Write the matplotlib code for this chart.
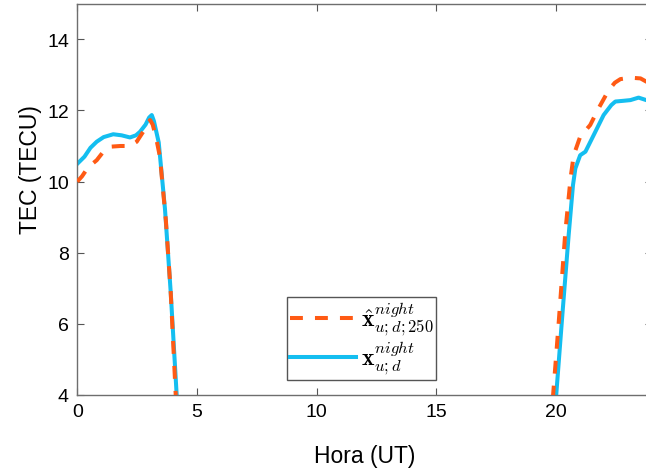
import numpy as np
import matplotlib
matplotlib.use("Agg")
import matplotlib.pyplot as plt

plt.rcParams['mathtext.fontset'] = 'cm'
plt.rcParams['font.family'] = ['Liberation Sans', 'DejaVu Sans']

# Reconstructed series (hour UT, TEC in TECU); NaN separates day gap
hours_est = [0, 0.2, 0.45, 0.81, 1.1, 1.37, 1.8, 2.2, 2.48, 2.75, 2.95, 3.04, 3.15, 3.3,
             3.45, 3.7, 3.9, 4.11, 4.3, np.nan,
             19.72, 19.87, 20.1, 20.38, 20.6, 20.73, 21.0, 21.42, 21.77, 22.19, 22.45,
             22.68, 23.1, 23.52, 23.76, 24.0]
tec_est = [10.0, 10.15, 10.4, 10.6, 10.85, 10.98, 11.0, 11.0, 11.12, 11.4, 11.65, 11.73,
           11.6, 11.2, 10.7, 8.9, 6.9, 4.0, 2.2, np.nan,
           2.5, 4.0, 6.0, 8.58, 10.1, 10.74, 11.26, 11.59, 12.06, 12.57, 12.78,
           12.88, 12.92, 12.90, 12.81, 12.75]

hours_obs = [0, 0.3, 0.55, 0.81, 1.1, 1.5, 1.85, 2.2, 2.45, 2.62, 2.85, 3.0, 3.11, 3.2,
             3.3, 3.4, 3.66, 3.9, 4.15, 4.3, np.nan,
             19.85, 20.0, 20.25, 20.52, 20.7, 20.8, 21.0, 21.22, 21.56, 21.98, 22.3,
             22.47, 22.8, 23.1, 23.44, 23.76, 24.0]
tec_obs = [10.5, 10.7, 10.95, 11.12, 11.25, 11.33, 11.3, 11.24, 11.3, 11.4, 11.6, 11.8,
           11.87, 11.7, 11.4, 11.1, 9.24, 6.9, 4.0, 2.6, np.nan,
           2.5, 4.0, 6.2, 8.5, 9.9, 10.37, 10.74, 10.84, 11.30, 11.87, 12.15,
           12.25, 12.27, 12.29, 12.36, 12.29, 12.25]

x_ticks = [0, 5, 10, 15, 20]
y_ticks = [4, 6, 8, 10, 12, 14]
label_est = r'$\hat{\mathbf{x}}^{night}_{u;d;250}$'
label_obs = r'$\mathbf{x}^{night}_{u;d}$'

W, H = 646, 477
fig = plt.figure(figsize=(W / 100, H / 100), dpi=100)
left, right, bottom, top = 77.3, 652.0, 396.0, 4.7
ax = fig.add_axes([left / W, 1 - bottom / H, (right - left) / W, (bottom - top) / H])

orange = '#FF5A14'
blue = '#14BEF0'
ax.plot(hours_est, tec_est, color=orange, lw=2.9, dashes=(3.2, 3.0),
        dash_capstyle='butt', label=label_est, zorder=3)
ax.plot(hours_obs, tec_obs, color=blue, lw=2.9, label=label_obs, zorder=2)

ax.set_xlim(0, 24)
ax.set_ylim(4, 15)
ax.set_xticks(x_ticks)
ax.set_yticks(y_ticks)
ax.tick_params(direction='in', length=5, width=0.8, color='#555555',
               labelsize=14, top=True, right=True, pad=6)
for s in ax.spines.values():
    s.set_color('#6E6E6E')
    s.set_linewidth(1.0)

ax.set_xlabel('Hora (UT)', fontsize=16.5)
ax.set_ylabel('TEC (TECU)', fontsize=16.5)
ax.xaxis.set_label_coords(0.5, -0.125)
ax.yaxis.set_label_coords(-0.061, 0.578)

h, l = ax.get_legend_handles_labels()
leg = ax.legend(h, l, loc='upper left',
                bbox_to_anchor=(287 / W, 1 - 298 / H), bbox_transform=fig.transFigure,
                fontsize=17, frameon=True, fancybox=False, framealpha=1,
                edgecolor='#555555', handlelength=2.8, handletextpad=0.2,
                borderaxespad=0, borderpad=0.12, labelspacing=0.02)
leg.get_frame().set_linewidth(1.0)

fig.savefig('out.png', dpi=100)
